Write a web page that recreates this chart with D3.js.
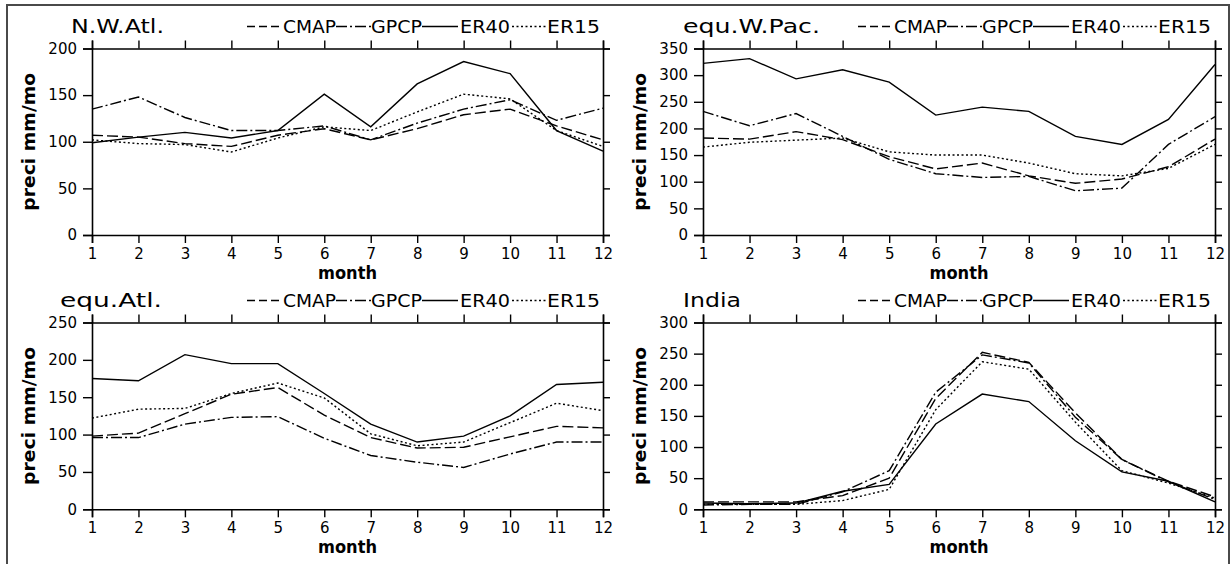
<!DOCTYPE html>
<html>
<head>
<meta charset="utf-8">
<script src="https://cdn.jsdelivr.net/npm/d3@7"></script>
<style>
  html, body { margin: 0; padding: 0; background: #fff; }
  svg { display: block; }
  text { font-family: "DejaVu Sans", "Liberation Sans", Arial, sans-serif; fill: #000; }
</style>
</head>
<body>
<svg id="chart" width="1231" height="564"></svg>
<script>
// ---- Data ----
const months = [1, 2, 3, 4, 5, 6, 7, 8, 9, 10, 11, 12];
const seriesNames = ["CMAP", "GPCP", "ER40", "ER15"];
const panelTitles = ["N.W.Atl.", "equ.W.Pac.", "equ.Atl.", "India"];
const panelYMax = [200, 350, 250, 300];

// N.W.Atl.
const nwAtlCMAP = [107, 105, 98, 95, 107, 114, 102, 114, 129, 135, 117, 102];
const nwAtlGPCP = [135, 148, 126, 112, 112, 117, 102, 120, 135, 145, 123, 136];
const nwAtlER40 = [99, 105, 110, 104, 112, 151, 116, 162, 186, 173, 112, 90];
const nwAtlER15 = [102, 98, 97, 89, 104, 116, 112, 132, 151, 146, 112, 95];

// equ.W.Pac.
const wPacCMAP = [182, 180, 194, 179, 147, 124, 135, 111, 97, 105, 128, 180];
const wPacGPCP = [232, 205, 228, 185, 142, 115, 108, 110, 83, 88, 170, 222];
const wPacER40 = [322, 331, 293, 310, 287, 225, 240, 232, 185, 170, 217, 320];
const wPacER15 = [165, 174, 178, 182, 156, 150, 150, 135, 115, 111, 125, 170];

// equ.Atl.
const eqAtlCMAP = [98, 102, 128, 154, 163, 126, 96, 82, 83, 97, 111, 109];
const eqAtlGPCP = [96, 96, 114, 123, 124, 95, 72, 63, 56, 74, 90, 90];
const eqAtlER40 = [175, 172, 207, 195, 195, 155, 114, 90, 98, 125, 167, 170];
const eqAtlER15 = [122, 134, 135, 155, 169, 149, 101, 85, 90, 116, 142, 132];

// India
const indiaCMAP = [12, 12, 12, 22, 50, 178, 252, 236, 155, 80, 45, 20];
const indiaGPCP = [7, 8, 8, 28, 62, 188, 248, 235, 148, 80, 44, 16];
const indiaER40 = [10, 9, 10, 29, 40, 137, 185, 173, 110, 60, 45, 12];
const indiaER15 = [8, 8, 8, 14, 32, 160, 237, 225, 140, 62, 42, 18];

const panelSeries = [
  [nwAtlCMAP, nwAtlGPCP, nwAtlER40, nwAtlER15],
  [wPacCMAP, wPacGPCP, wPacER40, wPacER15],
  [eqAtlCMAP, eqAtlGPCP, eqAtlER40, eqAtlER15],
  [indiaCMAP, indiaGPCP, indiaER40, indiaER15]
];

// ---- Styles ----
const dashStyles = {
  CMAP: "11,4",
  GPCP: "11,3,2,3",
  ER40: null,
  ER15: "2,2.5"
};

// ---- Layout ----
const layout = [
  { left: 92,  right: 603,  top: 48.5, bottom: 235,   titleX: 71,  titleW: 93 },
  { left: 703, right: 1215, top: 48.5, bottom: 235,   titleX: 683, titleW: 137 },
  { left: 92,  right: 603,  top: 322.5, bottom: 509.3, titleX: 60,  titleW: 102 },
  { left: 703, right: 1215, top: 322.5, bottom: 509.3, titleX: 683, titleW: 58 }
];

const svg = d3.select("#chart");

// outer frame (left, top, right)
svg.append("path")
  .attr("d", "M7,564 L7,5 L1229,5 L1229,564")
  .attr("fill", "none")
  .attr("stroke", "#4a4a4a")
  .attr("stroke-width", 2);

layout.forEach((L, pi) => {
  const g = svg.append("g");
  const x = d3.scaleLinear().domain([1, 12]).range([L.left, L.right]);
  const y = d3.scaleLinear().domain([0, panelYMax[pi]]).range([L.bottom, L.top]);
  const yTicks = d3.range(0, panelYMax[pi] + 1, 50);

  // axes
  const axB = d3.axisBottom(x).tickValues(months).tickFormat(d3.format("d")).tickSize(8).tickPadding(5);
  const axT = d3.axisTop(x).tickValues(months).tickFormat("").tickSize(8);
  const axL = d3.axisLeft(y).tickValues(yTicks).tickFormat(d3.format("d")).tickSize(9).tickPadding(6);
  const axR = d3.axisRight(y).tickValues(yTicks).tickFormat("").tickSize(7);

  const gb = g.append("g").attr("transform", `translate(0,${L.bottom})`).call(axB);
  const gt = g.append("g").attr("transform", `translate(0,${L.top})`).call(axT);
  const gl = g.append("g").attr("transform", `translate(${L.left},0)`).call(axL);
  const gr = g.append("g").attr("transform", `translate(${L.right},0)`).call(axR);
  [gb, gt, gl, gr].forEach(a => {
    a.attr("font-family", null).attr("font-size", null);
    a.select(".domain").attr("stroke", "#000").attr("stroke-width", 1.6);
    a.selectAll(".tick line").attr("stroke", "#000").attr("stroke-width", 1.4);
    a.selectAll("text")
      .style("font-size", "15px")
      .style("font-family", "'DejaVu Sans', sans-serif")
      .attr("fill", "#000");
  });

  // lines
  const line = d3.line().x((d, i) => x(months[i])).y(d => y(d));
  panelSeries[pi].forEach((vals, si) => {
    const name = seriesNames[si];
    g.append("path")
      .datum(vals)
      .attr("d", line)
      .attr("fill", "none")
      .attr("stroke", "#000")
      .attr("stroke-width", 1.4)
      .attr("stroke-dasharray", dashStyles[name]);
  });

  // title
  g.append("text")
    .attr("x", L.titleX)
    .attr("y", L.top - 15.5)
    .style("font-size", "20px")
    .attr("textLength", L.titleW)
    .attr("lengthAdjust", "spacingAndGlyphs")
    .text(panelTitles[pi]);

  // legend
  const legY = L.top - 22;
  const legBase = L.top - 15.5;
  const legStart = L.left + 155;
  const entries = [
    { name: "CMAP", l0: 0, l1: 36, t0: 36, tw: 53 },
    { name: "GPCP", l0: 89, l1: 124, t0: 124, tw: 51 },
    { name: "ER40", l0: 175, l1: 211, t0: 213, tw: 50 },
    { name: "ER15", l0: 265, l1: 300, t0: 300, tw: 53 }
  ];
  entries.forEach(e => {
    g.append("line")
      .attr("x1", legStart + e.l0).attr("x2", legStart + e.l1)
      .attr("y1", legY).attr("y2", legY)
      .attr("stroke", "#000").attr("stroke-width", 1.4)
      .attr("stroke-dasharray", e.name === "CMAP" ? "8,4" : dashStyles[e.name]);
    g.append("text")
      .attr("x", legStart + e.t0)
      .attr("y", legBase)
      .style("font-size", "18px")
      .attr("textLength", e.tw)
      .attr("lengthAdjust", "spacingAndGlyphs")
      .text(e.name);
  });

  // y label
  const cy = (L.top + L.bottom) / 2;
  g.append("text")
    .attr("transform", `translate(${L.left - 57},${cy}) rotate(-90)`)
    .attr("text-anchor", "middle")
    .style("font-size", "18px")
    .attr("font-weight", "bold")
    .attr("textLength", 138)
    .attr("lengthAdjust", "spacingAndGlyphs")
    .text("preci mm/mo");

  // x label
  g.append("text")
    .attr("x", (L.left + L.right) / 2)
    .attr("y", L.bottom + 44)
    .attr("text-anchor", "middle")
    .style("font-size", "18px")
    .attr("font-weight", "bold")
    .attr("textLength", 59)
    .attr("lengthAdjust", "spacingAndGlyphs")
    .text("month");
});
</script>
</body>
</html>
